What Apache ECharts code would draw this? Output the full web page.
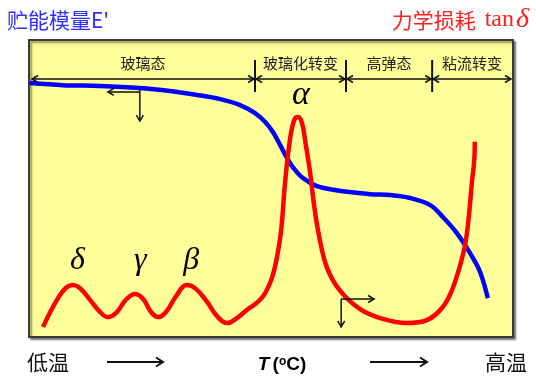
<!DOCTYPE html>
<html>
<head>
<meta charset="utf-8">
<script src="https://cdn.jsdelivr.net/npm/echarts@6/dist/echarts.min.js"></script>
<style>
html,body{margin:0;padding:0;background:#fff;}
#c{width:536px;height:381px;}
</style>
</head>
<body>
<div id="c"></div>
<script>
// Storage modulus E' (relative units) vs temperature (relative units 0-100)
const tempE = [0.2, 7.0, 14.7, 22.9, 29.1, 34.7, 39.5, 43.6, 46.7, 48.8, 50.4, 51.9, 53.3, 54.5, 56.6, 59.5, 63.2, 66.3, 70.5, 74.6, 78.7, 82.9, 85.5, 88.4, 91.1, 93.2, 94.8];
const modulusE = [85.5, 84.8, 84.5, 83.8, 82.8, 81.5, 80.1, 78.1, 75.4, 72.4, 69.0, 64.6, 60.3, 57.2, 53.5, 50.8, 49.5, 48.8, 48.1, 47.8, 46.8, 44.4, 40.4, 35.0, 28.3, 21.9, 13.1];
// Mechanical loss tan delta
const tempD = [2.9, 4.3, 6.0, 7.6, 9.1, 10.5, 12.6, 14.7, 16.3, 18.0, 20.0, 21.9, 23.6, 25.2, 26.7, 28.3, 30.4, 32.6, 34.5, 36.8, 38.8, 40.9, 43.0, 45.0, 47.3, 48.8, 50.2, 51.2, 52.1, 52.9, 53.9, 54.8, 55.6, 56.4, 57.2, 58.1, 58.9, 59.9, 61.6, 64.3, 68.4, 73.1, 78.1, 82.2, 85.5, 87.4, 88.8, 90.1, 90.9, 91.5, 92.0, 92.1];
const tanDelta = [3.4, 8.1, 13.1, 16.5, 17.5, 16.5, 12.5, 8.4, 6.7, 8.1, 12.5, 14.5, 12.8, 8.4, 6.7, 8.4, 13.8, 17.5, 16.2, 11.8, 7.1, 4.7, 6.4, 9.1, 11.8, 14.8, 19.9, 26.6, 36.0, 51.9, 66.3, 73.1, 74.1, 72.1, 64.6, 55.2, 44.4, 34.3, 23.2, 15.5, 9.4, 6.1, 4.7, 5.7, 10.1, 15.8, 22.6, 31.0, 41.1, 51.9, 59.6, 65.7];
// Phase regions
const phaseNames = ['玻璃态', '玻璃化转变', '高弹态', '粘流转变'];
const phaseBounds = [0, 46.7, 65.5, 83.3, 100];
// Relaxation peaks
const relaxNames = ['δ', 'γ', 'β', 'α'];
const relaxTemps = [10.0, 23.0, 33.5, 56.2];
// Texts
const titleE = "贮能模量E'";
const titleLoss = '力学损耗';
const lowT = '低温', highT = '高温';

const chart = echarts.init(document.getElementById('c'), null, {renderer: 'canvas'});
const zip = (a, b) => a.map((v, i) => [v, b[i]]);

chart.setOption({
  animation: false,
  grid: {left: 29, top: 40, width: 484, height: 297, show: true,
    backgroundColor: '#FFFF99', borderColor: '#3a3a3a', borderWidth: 2,
    shadowColor: 'rgba(0,0,0,0.45)', shadowBlur: 2, shadowOffsetX: 2, shadowOffsetY: 2},
  xAxis: {type: 'value', min: 0, max: 100, show: false},
  yAxis: {type: 'value', min: 0, max: 100, show: false},
  series: [
    {type: 'line', data: zip(tempE, modulusE), smooth: 0.35, showSymbol: false,
     lineStyle: {color: '#0000FF', width: 4.5}, z: 3},
    {type: 'line', data: zip(tempD, tanDelta), smooth: 0.4, showSymbol: false,
     lineStyle: {color: '#FF0000', width: 4.5}, z: 4}
  ]
});

const px = (x, y) => chart.convertToPixel({gridIndex: 0}, [x, y]);
const G = [];
const K = '#111';
function line(x1, y1, x2, y2, w, c) {
  G.push({type: 'line', shape: {x1, y1, x2, y2}, style: {stroke: c || K, lineWidth: w || 1.5}, z: 10});
}
function head(tx, ty, dx, dy, len, hw, w) {
  const L = len || 6, H = hw || 4;
  const px_ = -dy, py_ = dx;
  G.push({type: 'polyline', shape: {points: [
    [tx - dx * L + px_ * H, ty - dy * L + py_ * H], [tx, ty], [tx - dx * L - px_ * H, ty - dy * L - py_ * H]]},
    style: {stroke: K, lineWidth: w || 1.5, fill: null}, z: 10});
}
function text(x, y, t, style) {
  G.push({type: 'text', x, y, style: Object.assign({text: t, fill: K, textVerticalAlign: 'middle'}, style), z: 11});
}

// phase bar
const barY = 79;
const bx = phaseBounds.map(b => px(b, 0)[0]);
bx[0] += 2; bx[bx.length - 1] -= 1;
for (let i = 0; i < phaseNames.length; i++) {
  const a = bx[i] + 1, b = bx[i + 1] - 1;
  line(a, barY, b, barY, 1.5);
  head(a, barY, -1, 0, 6, 3.5);
  head(b, barY, 1, 0, 6, 3.5);
  text((bx[i] + bx[i + 1]) / 2, 63, phaseNames[i], {textAlign: 'center', fontSize: 15, fontFamily: 'Noto Sans CJK SC', fill: '#222'});
}
for (let i = 1; i < phaseBounds.length - 1; i++) line(bx[i], 60, bx[i], 92, 2);

// annotation arrows on curves
(function () {
  const p = px(22.9, 83.3);
  const q = px(22.9, 72.7);
  const r = px(16.3, 82.5);
  line(p[0], p[1], q[0], q[1], 1.5);
  head(q[0], q[1], 0, 1, 6, 3.5);
  line(p[0], r[1], r[0], r[1], 1.5);
  head(r[0], r[1], -1, 0, 6, 3.5);
  const s = px(64.5, 12.8);
  const t = px(64.5, 3.4);
  const u = px(71.3, 12.8);
  line(s[0], s[1], t[0], t[1], 1.5);
  head(t[0], t[1], 0, 1, 6, 3.5);
  line(s[0], s[1], u[0], u[1], 1.5);
  head(u[0], u[1], 1, 0, 6, 3.5);
})();

// greek labels
relaxNames.forEach((n, i) => {
  const x = px(relaxTemps[i], 0)[0];
  const y = i === 3 ? 95 : 261;
  text(x, y, n, {textAlign: 'center', fontSize: i === 3 ? 34 : 32, fontStyle: 'italic', fontFamily: 'Liberation Serif', fill: '#000'});
});

// titles
text(7, 20, titleE, {fontSize: 21, fontFamily: 'Noto Sans CJK SC', fill: '#2E2EFF'});
G.push({type: 'text', x: 529, y: 20, z: 11, style: {
  text: '{c|' + titleLoss + '}{g| }{t|tan}{d|δ}', textAlign: 'right', textVerticalAlign: 'middle',
  rich: {
    c: {fontSize: 21, fontFamily: 'Noto Sans CJK SC', fill: '#FF2020', fontWeight: 'normal'},
    g: {fontSize: 21, width: 9},
    t: {fontSize: 24, fontFamily: 'Liberation Serif', fill: '#FF2020', padding: [0, 2, 0, 0]},
    d: {fontSize: 28, fontFamily: 'Liberation Serif', fontStyle: 'italic', fill: '#FF2020'}
  }}});

// bottom axis text
text(27, 362, lowT, {fontSize: 21, fontFamily: 'Noto Sans CJK SC', fill: '#111'});
text(527, 362, highT, {fontSize: 21, fontFamily: 'Noto Sans CJK SC', fill: '#111', textAlign: 'right'});
line(107, 362, 162, 362, 2);
head(163, 362, 1, 0, 7, 4.5, 2);
line(370, 362, 426, 362, 2);
head(427, 362, 1, 0, 7, 4.5, 2);
G.push({type: 'text', x: 282, y: 365, z: 11, style: {
  text: '{t|T} {p|(}{s|o}{p|C)}', textAlign: 'center', textVerticalAlign: 'middle',
  rich: {
    t: {fontSize: 19, fontFamily: 'Liberation Sans', fontWeight: 'bold', fontStyle: 'italic', fill: '#000'},
    p: {fontSize: 19, fontFamily: 'Liberation Sans', fontWeight: 'bold', fill: '#000'},
    s: {fontSize: 12, fontFamily: 'Liberation Sans', fontWeight: 'bold', fill: '#000', verticalAlign: 'top', padding: [0, 0, 7, 0]}
  }}});

chart.setOption({graphic: G});
</script>
</body>
</html>
